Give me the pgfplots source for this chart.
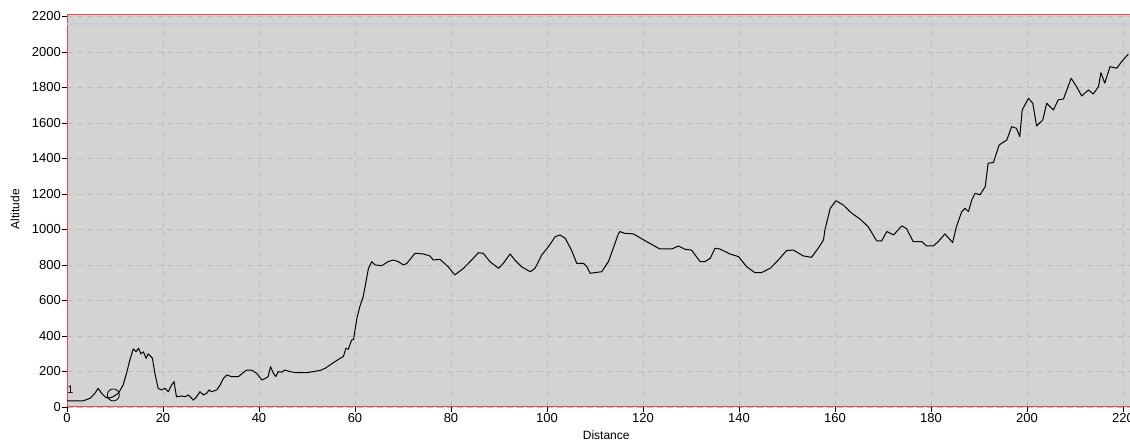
\documentclass[border=0pt]{standalone}
\usepackage{fontspec}
\setmainfont{Liberation Sans}
\usepackage{pgfplots}
\pgfplotsset{compat=1.18}
\definecolor{bgray}{HTML}{D3D3D3}
\definecolor{gridc}{HTML}{BDBDBD}
\definecolor{axred}{HTML}{F04848}
\begin{document}
\begin{tikzpicture}
\begin{axis}[
  at={(67pt,34pt)}, anchor=south west,
  scale only axis, width=1065.6pt, height=392pt,
  xmin=0, xmax=222, ymin=0, ymax=2208,
  xtick={0,20,...,220}, ytick={0,200,...,2200},
  axis background/.style={fill=bgray},
  axis line style={axred, line width=1pt},
  grid=major,
  major grid style={gridc, dashed, dash pattern=on 6pt off 4pt, line width=0.8pt},
  tick align=outside, xtick pos=bottom, ytick pos=left,
  major tick length=5pt,
  tick style={black, line width=0.8pt},
  /pgf/number format/assume math mode=true,
  /pgf/number format/1000 sep={},
  tick label style={font=\fontsize{13}{15}\selectfont, inner sep=1pt},
  xlabel={Distance}, ylabel={Altitude},
  xlabel style={font=\fontsize{12}{14}\selectfont, at={(axis description cs:0.506,-0.071)}, anchor=center, inner sep=0pt},
  ylabel style={font=\fontsize{12}{14}\selectfont, at={(axis description cs:-0.0488,0.505)}, anchor=center, inner sep=0pt},
  clip=true,
]
\addplot[color={rgb,255:red,200;green,204;blue,216}, line width=2pt, forget plot] coordinates {(0,2160) (222,2160)};
\addplot[black, line width=1pt, line join=round] coordinates {
(0,35)(3.4,35)(4.8,49)(5.8,77)(6.5,105)(7.2,77)(7.9,58)(8.6,49)(9.6,58)(10.7,77)(11.7,124)(12.4,190)(13.1,265)(13.8,327)(14.4,311)(14.9,331)(15.4,299)(15.9,311)(16.5,274)(16.9,299)(17.4,287)(17.8,274)(18.3,190)(19.0,105)(19.7,96)(20.4,105)(21.1,86)(21.8,124)(22.3,143)(22.8,58)(23.9,62)(24.6,58)(25.3,68)(26.3,39)(27.0,58)(27.7,86)(28.4,68)(29.1,77)(29.6,96)(30.1,86)(31.2,96)(31.9,124)(32.6,161)(33.3,180)(34.3,171)(35.7,171)(36.7,193)(37.4,208)(38.5,208)(39.5,190)(40.6,152)(41.3,161)(41.9,171)(42.4,227)(43.0,190)(43.5,171)(44.0,199)(44.7,196)(45.4,208)(46.5,199)(47.8,193)(49.9,193)(51.3,199)(52.7,206)(53.8,218)(54.8,237)(55.8,255)(56.9,274)(57.6,285)(58.1,331)(58.6,325)(59.3,377)(59.7,380)(60.0,434)(60.4,500)(61.0,565)(61.7,621)(62.1,678)(62.8,781)(63.5,819)(64.2,800)(65.6,796)(66.9,819)(68.0,828)(69.0,819)(70.1,800)(70.8,809)(72.5,866)(74.2,862)(75.6,851)(76.3,828)(77.7,832)(79.4,790)(80.8,744)(82.6,781)(84.3,828)(85.7,869)(86.7,866)(88.1,819)(89.9,781)(90.9,809)(92.3,862)(93.3,828)(94.7,790)(96.5,762)(97.5,781)(98.9,856)(100.3,903)(101.7,959)(102.7,969)(103.8,950)(105.1,884)(106.2,809)(107.6,809)(108.3,790)(109.0,753)(110.0,757)(111.4,762)(112.8,819)(113.8,894)(114.9,978)(115.2,988)(116.2,978)(118.0,975)(120.8,931)(123.5,890)(126.0,890)(127.4,907)(128.8,888)(130.1,884)(131.9,819)(132.9,819)(134.0,837)(135.0,894)(136.0,890)(138.1,862)(139.9,847)(141.6,790)(143.3,757)(144.7,757)(146.5,781)(148.2,828)(149.9,881)(151.3,884)(153.4,851)(155.1,843)(156.5,894)(157.6,941)(157.9,997)(159.0,1119)(160.2,1162)(161.7,1138)(163.5,1091)(165.2,1059)(166.9,1016)(168.7,935)(169.7,935)(170.8,988)(172.2,969)(173.9,1020)(174.9,1005)(176.3,931)(178.1,931)(179.1,907)(180.5,907)(181.5,931)(182.9,975)(184.5,926)(185.3,1016)(186.4,1100)(187.1,1119)(187.8,1100)(188.5,1166)(189.2,1204)(190.2,1195)(191.3,1241)(191.9,1373)(193.0,1377)(194.2,1476)(195.8,1504)(196.8,1579)(197.8,1570)(198.5,1523)(199.0,1673)(200.3,1739)(201.2,1711)(202.0,1583)(203.3,1617)(204.1,1711)(205.5,1673)(206.5,1730)(207.6,1735)(209.2,1852)(210.3,1805)(211.4,1752)(212.8,1786)(213.8,1763)(214.9,1805)(215.4,1883)(216.2,1824)(217.3,1917)(218.7,1908)(219.7,1945)(221.1,1987)
};
\addplot[only marks, mark=o, mark size=6pt, black, line width=0.8pt] coordinates {(9.65,68)};
\node[font=\fontsize{11}{12}\selectfont, inner sep=0pt] at (axis cs:0.7,96) {1};
\end{axis}
\pgfresetboundingbox
\path[use as bounding box] (0,0) rectangle (1130pt,441pt);
\end{tikzpicture}
\end{document}
